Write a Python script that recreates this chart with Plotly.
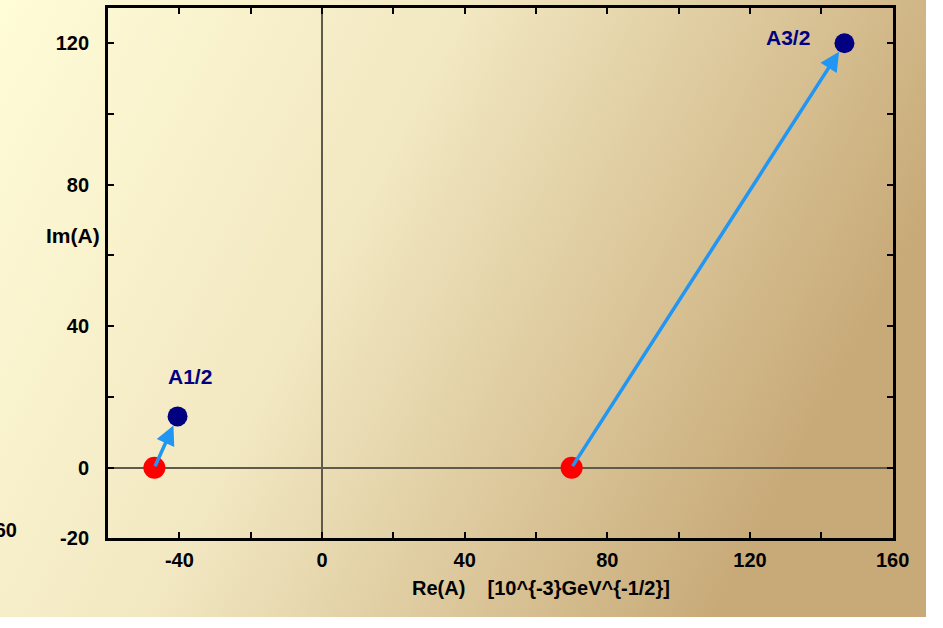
import base64
import plotly.graph_objects as go

# Isospin amplitudes in the complex plane: start (red) -> end (blue)
amp_names = ["A1/2", "A3/2"]
re_start = [-47, 70]
im_start = [0, 0]
re_end = [-40.5, 146.5]
im_end = [14.5, 120]

x_ticks = [-40, 0, 40, 80, 120, 160]
y_ticks = [-20, 0, 40, 80, 120]
x_range = [-60, 160]
y_range = [-20, 130]

W, H = 943, 628
left, right, top, bottom = 110, 909, 8, 548
FONT = "Liberation Sans, Arial"

# warm diagonal gradient used as page background
grad_svg = (
    '<svg xmlns="http://www.w3.org/2000/svg" width="943" height="628" preserveAspectRatio="none">'
    '<defs><linearGradient id="g" x1="0" y1="0" x2="1" y2="0.35">'
    '<stop offset="0" stop-color="#FFFCD8"/>'
    '<stop offset="0.45" stop-color="#F2E8C2"/>'
    '<stop offset="1" stop-color="#C8AA78"/>'
    '</linearGradient></defs>'
    '<rect width="943" height="628" fill="url(#g)"/></svg>'
)
grad_uri = "data:image/svg+xml;base64," + base64.b64encode(grad_svg.encode()).decode()

fig = go.Figure()

fig.add_trace(go.Scatter(
    x=re_start, y=im_start, mode="markers",
    marker=dict(color="#FF0000", size=22, line=dict(width=0)),
    hoverinfo="skip", showlegend=False,
))
fig.add_trace(go.Scatter(
    x=re_end, y=im_end, mode="markers",
    marker=dict(color="#000080", size=20, line=dict(width=0)),
    hoverinfo="skip", showlegend=False,
))

annotations = []
for i in range(len(amp_names)):
    annotations.append(dict(
        x=re_end[i], y=im_end[i], ax=re_start[i], ay=im_start[i],
        xref="x", yref="y", axref="x", ayref="y",
        showarrow=True, arrowhead=2, arrowsize=1.1, arrowwidth=3.5,
        arrowcolor="#2196F3", standoff=10, text="",
    ))

label_shift = [(12, 40), (-56, 6)]
for i, name in enumerate(amp_names):
    annotations.append(dict(
        x=re_end[i], y=im_end[i], xref="x", yref="y", text="<b>" + name + "</b>",
        showarrow=False, xshift=label_shift[i][0], yshift=label_shift[i][1],
        font=dict(family=FONT, size=21, color="#000080"),
    ))

annotations.append(dict(
    x=551 / W, y=1 - 612 / H, xref="paper", yref="paper",
    text="<b>Re(A)    [10^{-3}GeV^{-1/2}]</b>", showarrow=False,
    font=dict(family=FONT, size=20, color="black"),
))
annotations.append(dict(
    x=45 / W, y=1 - 240 / H, xref="paper", yref="paper",
    text="<b>Im(A)</b>", showarrow=False,
    font=dict(family=FONT, size=21, color="black"),
))
annotations.append(dict(
    x=19 / W, y=1 - 553 / H, xref="paper", yref="paper", xanchor="right",
    text="<b>-60</b>", showarrow=False,
    font=dict(family=FONT, size=20, color="black"),
))

axis_common = dict(
    showgrid=False, zeroline=True, zerolinecolor="#5f5a4c", zerolinewidth=1.5,
    showline=True, linecolor="black", linewidth=3, mirror="ticks",
    ticks="inside", ticklen=6, tickwidth=2, tickcolor="black",
    tickfont=dict(family=FONT, size=20, color="black", weight="bold"),
    minor=dict(ticks="inside", ticklen=6, tickwidth=2, tickcolor="black", dtick=20),
)

fig.update_layout(
    width=W, height=H,
    margin=dict(l=0, r=0, t=0, b=0),
    paper_bgcolor="rgba(0,0,0,0)",
    plot_bgcolor="rgba(0,0,0,0)",
    xaxis=dict(domain=[left / W, right / W], range=x_range,
               tickvals=x_ticks, ticktext=[str(v) for v in x_ticks],
               ticklabelstandoff=2, **axis_common),
    yaxis=dict(domain=[1 - bottom / H, 1 - top / H], range=y_range,
               tickvals=y_ticks, ticktext=[str(v) for v in y_ticks],
               ticklabelstandoff=12, **axis_common),
    images=[dict(source=grad_uri, xref="paper", yref="paper", x=0, y=1,
                 sizex=1, sizey=1, sizing="stretch", layer="below",
                 xanchor="left", yanchor="top")],
    annotations=annotations,
)

fig.write_html("out.html")
